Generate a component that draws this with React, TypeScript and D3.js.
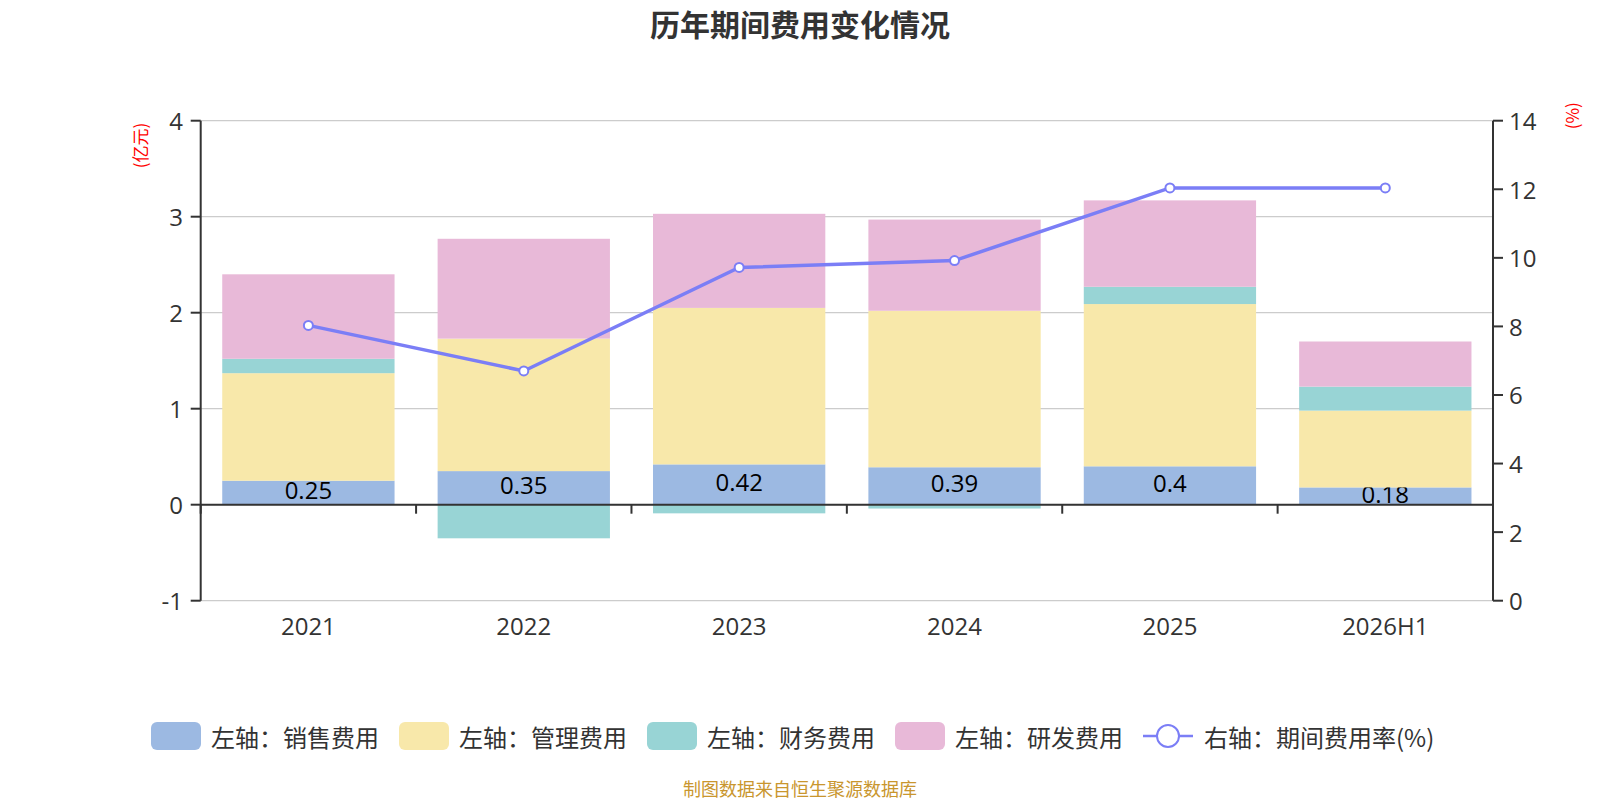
import React from "react";
import * as d3 from "d3";

const categories = ["2021", "2022", "2023", "2024", "2025", "2026H1"];
const sales = [0.25, 0.35, 0.42, 0.39, 0.4, 0.18];
const management = [1.12, 1.38, 1.63, 1.63, 1.69, 0.8];
const finance = [0.15, -0.35, -0.09, -0.04, 0.18, 0.25];
const research = [0.88, 1.04, 0.98, 0.95, 0.9, 0.47];
const expenseRate = [8.03, 6.7, 9.72, 9.92, 12.04, 12.04];
const leftTicks = [-1, 0, 1, 2, 3, 4];
const rightTicks = [0, 2, 4, 6, 8, 10, 12, 14];

const seriesNames = ["左轴：销售费用", "左轴：管理费用", "左轴：财务费用", "左轴：研发费用"];
const lineName = "右轴：期间费用率(%)";
const colors = ["#9cb9e2", "#f8e8aa", "#98d4d5", "#e8b9d8"];
const lineColor = "#7b7ef6";
const FONT = "'Noto Sans CJK SC', 'Noto Sans', sans-serif";
const NUMFONT = "'Open Sans', 'Noto Sans CJK SC', sans-serif";

export default function App() {
  const W = 1600, H = 800;
  const left = 200.7, right = 1493, top = 120.7, bottom = 600.7;
  const x = d3.scaleBand<string>().domain(categories).range([left, right]).paddingInner(0.2).paddingOuter(0.1);
  const step = x.step();
  const yL = d3.scaleLinear().domain([-1, 4]).range([bottom, top]);
  const yR = d3.scaleLinear().domain([0, 14]).range([bottom, top]);

  const keys = ["sales", "management", "finance", "research"];
  const rows = categories.map((c, i) => ({
    cat: c,
    sales: sales[i],
    management: management[i],
    finance: finance[i],
    research: research[i],
  }));
  const stacked = d3.stack<any>().keys(keys).offset(d3.stackOffsetDiverging)(rows);

  const line = d3
    .line<number>()
    .x((_, i) => (x(categories[i]) as number) + x.bandwidth() / 2)
    .y((d) => yR(d));

  const zeroY = yL(0);

  const renderSeries = (si: number) =>
    stacked[si].map((seg, i) => {
      const y0 = yL(seg[0]);
      const y1 = yL(seg[1]);
      return (
        <rect
          key={`s${si}-${i}`}
          x={x(categories[i])}
          y={Math.min(y0, y1)}
          width={x.bandwidth()}
          height={Math.abs(y0 - y1)}
          fill={colors[si]}
        />
      );
    });

  // legend layout
  const legendY = 736;
  const textW = 168;
  const gap = 20;
  let lx = 151;
  const legendItems = seriesNames.map((n, i) => {
    const item = { x: lx, name: n, color: colors[i] };
    lx += 50 + 10 + textW + gap;
    return item;
  });
  const lineLegendX = lx;

  return (
    <svg width={W} height={H} style={{ position: "absolute", left: 0, top: 0, background: "#fff" }} fontFamily={FONT}>
      <text x={800} y={22.5} textAnchor="middle" dominantBaseline="central" fontSize={30} fontWeight="bold" fill="#333">
        历年期间费用变化情况
      </text>

      {/* gridlines */}
      {leftTicks.map((t) => (
        <line key={`g${t}`} x1={left} x2={right} y1={yL(t)} y2={yL(t)} stroke="#cccccc" strokeWidth={1.3} />
      ))}

      {/* bars */}
      {renderSeries(0)}
      {stacked[0].map((seg, i) => (
        <text
          key={`lab${i}`}
          x={(x(categories[i]) as number) + x.bandwidth() / 2}
          y={(yL(seg[0]) + yL(seg[1])) / 2 - 3}
          textAnchor="middle"
          dominantBaseline="central"
          fontSize={24}
          fontFamily={NUMFONT}
          fill="#000"
        >
          {sales[i]}
        </text>
      ))}
      {renderSeries(1)}
      {renderSeries(2)}
      {renderSeries(3)}

      {/* x axis at zero */}
      <line x1={left} x2={right} y1={zeroY} y2={zeroY} stroke="#333" strokeWidth={2} />
      {d3.range(categories.length + 1).map((k) => (
        <line key={`xt${k}`} x1={left + k * step} x2={left + k * step} y1={zeroY} y2={zeroY + 9} stroke="#333" strokeWidth={2} />
      ))}
      {categories.map((c) => (
        <text key={`xl${c}`} x={(x(c) as number) + x.bandwidth() / 2} y={625} textAnchor="middle" dominantBaseline="central" fontSize={24} fontFamily={NUMFONT} fill="#333">
          {c}
        </text>
      ))}

      {/* left axis */}
      <line x1={left} x2={left} y1={top} y2={bottom} stroke="#333" strokeWidth={2} />
      {leftTicks.map((t) => (
        <g key={`lt${t}`}>
          <line x1={left - 10} x2={left} y1={yL(t)} y2={yL(t)} stroke="#333" strokeWidth={2} />
          <text x={183} y={yL(t)} textAnchor="end" dominantBaseline="central" fontSize={24} fontFamily={NUMFONT} fill="#333">
            {t}
          </text>
        </g>
      ))}
      <text transform={`translate(139,145.5) rotate(-90)`} textAnchor="middle" dominantBaseline="central" fontSize={17} fill="#ff0000">
        (亿元)
      </text>

      {/* right axis */}
      <line x1={right} x2={right} y1={top} y2={bottom} stroke="#333" strokeWidth={2} />
      {rightTicks.map((t) => (
        <g key={`rt${t}`}>
          <line x1={right} x2={right + 10} y1={yR(t)} y2={yR(t)} stroke="#333" strokeWidth={2} />
          <text x={1509} y={yR(t)} textAnchor="start" dominantBaseline="central" fontSize={24} fontFamily={NUMFONT} fill="#333">
            {t}
          </text>
        </g>
      ))}
      <text transform={`translate(1571,115.7) rotate(-90)`} textAnchor="middle" dominantBaseline="central" fontSize={17} fill="#ff0000">
        (%)
      </text>

      {/* line */}
      <path d={line(expenseRate) || ""} fill="none" stroke={lineColor} strokeWidth={3.5} />
      {expenseRate.map((v, i) => (
        <circle key={`p${i}`} cx={(x(categories[i]) as number) + x.bandwidth() / 2} cy={yR(v)} r={4.5} fill="#fff" stroke={lineColor} strokeWidth={2} />
      ))}

      {/* legend */}
      {legendItems.map((it) => (
        <g key={it.name}>
          <rect x={it.x} y={legendY - 14} width={50} height={28} rx={6} fill={it.color} />
          <text x={it.x + 60} y={legendY} dominantBaseline="central" fontSize={24} fill="#333">
            {it.name}
          </text>
        </g>
      ))}
      <line x1={lineLegendX} x2={lineLegendX + 50} y1={legendY} y2={legendY} stroke={lineColor} strokeWidth={2.5} />
      <circle cx={lineLegendX + 25} cy={legendY} r={11} fill="#fff" stroke={lineColor} strokeWidth={2} />
      <text x={lineLegendX + 61} y={legendY} dominantBaseline="central" fontSize={24} fill="#333">
        {lineName}
      </text>

      <text x={800} y={788} textAnchor="middle" dominantBaseline="central" fontSize={18} fill="#c9962e">
        制图数据来自恒生聚源数据库
      </text>
    </svg>
  );
}
